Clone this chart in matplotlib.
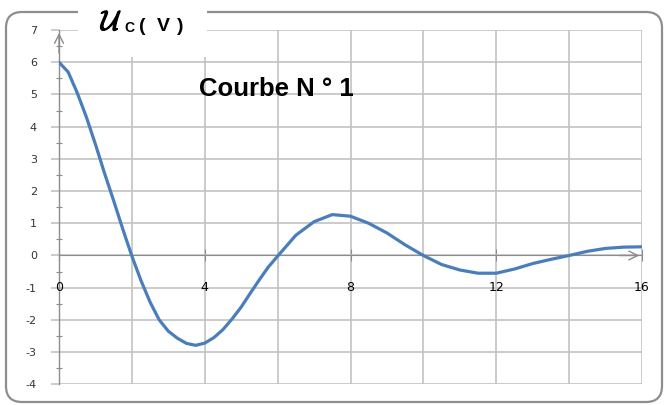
import matplotlib.pyplot as plt
from matplotlib.patches import FancyBboxPatch, Rectangle
from matplotlib.transforms import IdentityTransform
import matplotlib.patheffects as pe
import numpy as np

# values
t = [0, 0.25, 0.5, 0.75, 1, 1.25, 1.5, 1.75, 2, 2.25, 2.5, 2.75, 3, 3.25, 3.5,
     3.75, 4, 4.25, 4.5, 4.75, 5, 5.25, 5.5, 5.75, 6, 6.5, 7, 7.5, 8, 8.5, 9,
     9.5, 10, 10.5, 11, 11.5, 12, 12.5, 13, 13.5, 14, 14.5, 15, 15.5, 16]
uc = [6.0, 5.7, 5.05, 4.3, 3.45, 2.55, 1.7, 0.82, -0.02, -0.78, -1.45, -2.0,
      -2.35, -2.57, -2.73, -2.79, -2.72, -2.55, -2.3, -1.97, -1.6, -1.17, -0.75,
      -0.35, -0.02, 0.63, 1.05, 1.27, 1.22, 1.0, 0.7, 0.33, 0.0, -0.28, -0.45,
      -0.55, -0.55, -0.42, -0.25, -0.12, 0.0, 0.13, 0.22, 0.26, 0.27]
x_labels = [0, 4, 8, 12, 16]
y_ticks = list(range(-4, 8))

plt.rcParams['font.family'] = ['DejaVu Sans']
plt.rcParams['axes.unicode_minus'] = False
fig = plt.figure(figsize=(6.67, 4.05), dpi=100)
ax = fig.add_axes([0.0885, 0.0511, 0.874, 0.8746])

grid_c = '#c2c2c2'
axis_c = '#8c8c8c'

ax.set_xlim(0, 16)
ax.set_ylim(-4, 7)
ax.set_xticks(x_labels)
ax.set_xticks(range(0, 17, 2), minor=True)
ax.set_yticks(y_ticks)
ax.set_yticks(np.arange(-3.5, 7, 1.0), minor=True)
ax.grid(True, which='major', color=grid_c, lw=1.2)
ax.grid(True, which='minor', axis='x', color=grid_c, lw=1.2)

for s in ('top', 'right'):
    ax.spines[s].set_visible(False)
ax.spines['bottom'].set_position(('data', 0))
ax.spines['bottom'].set_color(axis_c)
ax.spines['left'].set_color(axis_c)
ax.spines['left'].set_linewidth(1.0)

ax.tick_params(axis='x', which='major', direction='inout', length=9,
               color=axis_c, labelbottom=False)
ax.tick_params(axis='x', which='minor', length=0)
ax.tick_params(axis='y', which='major', direction='out', length=6,
               color=grid_c, width=1.2, labelsize=8, labelcolor='#333333', pad=10)
ax.tick_params(axis='y', which='minor', direction='inout', length=5,
               color=axis_c, width=0.8)

for xl in x_labels:
    ax.text(xl, -1, str(xl), ha='center', va='center', fontsize=9,
            color='black', zorder=4)

ax.plot(t, uc, color='#4a7ebb', lw=2.3, zorder=5, solid_capstyle='round')

arrow = dict(arrowstyle='->', color=axis_c, lw=1.0, mutation_scale=16)
ax.annotate('', xy=(0, 7), xytext=(0, 6.2), arrowprops=arrow, annotation_clip=False)
ax.annotate('', xy=(16, 0), xytext=(15.3, 0), arrowprops=arrow, annotation_clip=False)

ax.text(0.373, 0.834, 'Courbe N ° 1', transform=ax.transAxes, ha='center',
        va='center', fontsize=18.5, fontweight='bold', family='Liberation Sans',
        zorder=6)

# rounded frame round the chart, in pixels
ident = IdentityTransform()
fig.add_artist(FancyBboxPatch((6, 3), 656, 390,
                              boxstyle='round,pad=0,rounding_size=16',
                              transform=ident, fill=False, ec='#8e8e8e', lw=1.6))
fig.add_artist(Rectangle((78, 348), 129, 57, transform=ident, fc='white',
                         ec='none', zorder=10))
bold = [pe.withStroke(linewidth=0.9, foreground='black')]
fig.text(101, 375, r'$\mathcal{U}$', transform=ident, fontsize=20,
         math_fontfamily='cm', va='baseline', zorder=11, path_effects=bold)
fig.text(124, 373, 'C', transform=ident, fontsize=10, fontweight='bold',
         family='Liberation Sans', va='baseline', zorder=11)
fig.text(139, 374, '(', transform=ident, fontsize=14, fontweight='bold',
         family='Liberation Sans', va='baseline', ha='left', zorder=11)
fig.text(163.5, 374, 'V', transform=ident, fontsize=14, fontweight='bold',
         family='Liberation Sans', va='baseline', ha='center', zorder=11)
fig.text(183, 374, ')', transform=ident, fontsize=14, fontweight='bold',
         family='Liberation Sans', va='baseline', ha='right', zorder=11)

fig.savefig('out.png', dpi=100)
